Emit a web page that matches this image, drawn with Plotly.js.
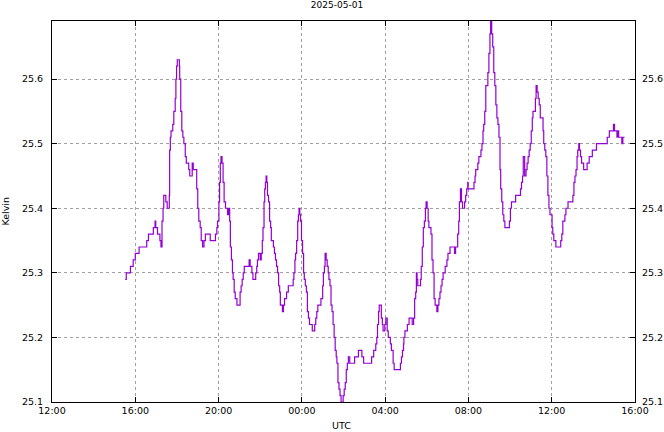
<!DOCTYPE html>
<html>
<head>
<meta charset="utf-8">
<script src="https://cdn.plot.ly/plotly-3.0.1.min.js"></script>
<style>
  html, body { margin: 0; padding: 0; background: #ffffff; }
  #chart { width: 664px; height: 432px; }
</style>
</head>
<body>
<div id="chart"></div>
<script>
// Title / labels
const chartTitle = "2025-05-01";
const xLabel = "UTC";
const yLabel = "Kelvin";
const startDate = "2025-05-01";
const nextDate = "2025-05-02";

// Measurement times (UTC, HH:MM) starting 2025-05-01, rolling into 2025-05-02
const times = [
  "15:31","15:34","15:46","15:54","16:00","16:11","16:33","16:38","16:52","16:57",
  "16:59","17:04","17:08","17:11","17:14","17:17","17:20","17:22","17:26","17:28",
  "17:32","17:38","17:39","17:41","17:43","17:48","17:51","17:55","17:57","17:59",
  "18:01","18:07","18:08","18:11","18:14","18:17","18:20","18:24","18:27","18:34",
  "18:37","18:44","18:47","18:57","19:00","19:03","19:07","19:10","19:14","19:18",
  "19:22","19:36","19:51","19:55","19:57","20:01","20:03","20:05","20:07","20:10",
  "20:13","20:16","20:20","20:26","20:29","20:32","20:34","20:37","20:40","20:42",
  "20:45","20:48","20:53","21:02","21:05","21:08","21:11","21:14","21:28","21:31",
  "21:36","21:39","21:47","21:50","21:52","21:55","22:00","22:03","22:06","22:08",
  "22:11","22:13","22:15","22:17","22:19","22:21","22:24","22:27","22:30","22:32",
  "22:38","22:41","22:44","22:47","22:50","22:53","22:56","22:58","23:04","23:07",
  "23:10","23:16","23:21","23:35","23:37","23:40","23:42","23:45","23:48","23:50",
  "23:52","23:54","23:56","23:59","00:02","00:05","00:07","00:10","00:13","00:16",
  "00:19","00:22","00:30","00:37","00:40","00:43","00:46","00:55","01:00","01:02",
  "01:05","01:07","01:10","01:13","01:16","01:18","01:21","01:24","01:27","01:30",
  "01:33","01:36","01:39","01:41","01:44","01:47","01:50","01:53","01:59","02:02",
  "02:05","02:08","02:11","02:14","02:18","02:32","02:43","02:53","02:58","03:21",
  "03:27","03:33","03:36","03:38","03:41","03:43","03:49","03:52","03:54","03:59",
  "04:02","04:06","04:09","04:15","04:18","04:23","04:26","04:44","04:47","04:50",
  "04:53","04:54","04:57","05:04","05:09","05:18","05:22","05:25","05:28","05:30",
  "05:32","05:34","05:42","05:44","05:47","05:50","05:53","05:56","05:58","06:01",
  "06:04","06:06","06:12","06:15","06:18","06:21","06:24","06:29","06:32","06:35",
  "06:38","06:41","06:44","06:47","06:53","06:58","07:01","07:07","07:20","07:23",
  "07:29","07:32","07:34","07:37","07:40","07:43","07:49","07:52","07:55","07:58",
  "07:59","08:16","08:19","08:21","08:27","08:30","08:36","08:39","08:42","08:44",
  "08:47","08:50","08:56","08:59","09:02","09:04","09:07","09:10","09:13","09:16",
  "09:19","09:22","09:25","09:28","09:31","09:33","09:36","09:39","09:42","09:45",
  "09:58","10:01","10:04","10:16","10:30","10:33","10:36","10:38","10:42","10:46",
  "10:49","10:52","10:55","10:58","11:01","11:04","11:06","11:13","11:15","11:18",
  "11:21","11:24","11:27","11:35","11:37","11:40","11:43","11:46","11:49","11:52",
  "11:55","12:01","12:03","12:06","12:12","12:26","12:29","12:32","12:38","12:41",
  "12:47","13:01","13:04","13:07","13:10","13:13","13:15","13:18","13:20","13:23",
  "13:26","13:32","13:42","13:48","13:57","14:09","14:40","14:46","14:58","15:01",
  "15:08","15:11","15:13","15:22","15:25","15:30"
];

// Temperature readings (Kelvin)
const kelvin = [
  25.29,25.30,25.31,25.32,25.33,25.34,25.35,25.36,25.37,25.38,
  25.37,25.36,25.36,25.35,25.34,25.38,25.40,25.42,25.42,25.41,
  25.40,25.42,25.49,25.51,25.52,25.53,25.55,25.57,25.60,25.62,
  25.63,25.62,25.60,25.55,25.52,25.51,25.50,25.48,25.47,25.46,
  25.45,25.47,25.46,25.43,25.40,25.38,25.37,25.35,25.34,25.35,
  25.36,25.35,25.36,25.37,25.38,25.41,25.44,25.47,25.48,25.47,
  25.44,25.41,25.40,25.39,25.40,25.38,25.34,25.32,25.30,25.29,
  25.27,25.26,25.25,25.27,25.28,25.29,25.30,25.31,25.32,25.31,
  25.30,25.29,25.30,25.31,25.32,25.33,25.32,25.33,25.35,25.37,
  25.41,25.43,25.44,25.45,25.44,25.42,25.41,25.38,25.37,25.35,
  25.34,25.33,25.32,25.31,25.30,25.28,25.27,25.25,25.24,25.25,
  25.26,25.27,25.28,25.29,25.30,25.32,25.33,25.35,25.38,25.39,
  25.40,25.39,25.38,25.35,25.33,25.30,25.29,25.28,25.27,25.24,
  25.23,25.22,25.21,25.22,25.23,25.24,25.25,25.26,25.28,25.30,
  25.31,25.33,25.32,25.31,25.30,25.29,25.28,25.25,25.24,25.22,
  25.20,25.18,25.17,25.16,25.13,25.12,25.11,25.10,25.11,25.12,
  25.13,25.15,25.16,25.17,25.16,25.17,25.18,25.17,25.16,25.17,
  25.18,25.19,25.20,25.22,25.24,25.25,25.23,25.22,25.21,25.22,
  25.23,25.21,25.20,25.19,25.18,25.16,25.15,25.16,25.17,25.18,
  25.19,25.20,25.21,25.22,25.23,25.22,25.23,25.26,25.27,25.30,
  25.29,25.28,25.29,25.31,25.34,25.37,25.38,25.40,25.41,25.40,
  25.38,25.37,25.36,25.32,25.30,25.26,25.25,25.24,25.25,25.26,
  25.27,25.28,25.29,25.30,25.31,25.32,25.33,25.34,25.33,25.34,
  25.36,25.38,25.41,25.43,25.41,25.40,25.41,25.42,25.43,25.44,
  25.43,25.44,25.45,25.46,25.47,25.48,25.49,25.50,25.52,25.53,
  25.55,25.59,25.61,25.64,25.67,25.69,25.67,25.65,25.61,25.59,
  25.56,25.54,25.53,25.51,25.46,25.43,25.41,25.39,25.38,25.37,
  25.38,25.40,25.41,25.42,25.43,25.44,25.45,25.48,25.45,25.46,
  25.47,25.48,25.49,25.50,25.52,25.54,25.55,25.57,25.59,25.58,
  25.57,25.56,25.54,25.52,25.50,25.49,25.48,25.45,25.42,25.40,
  25.39,25.37,25.36,25.35,25.34,25.35,25.36,25.38,25.39,25.40,
  25.41,25.42,25.44,25.45,25.46,25.48,25.49,25.50,25.49,25.48,
  25.47,25.46,25.47,25.48,25.49,25.50,25.51,25.52,25.53,25.52,
  25.51,25.52,25.51,25.50,25.51,25.51
];

// Axis tick values
const yTicks = [25.1, 25.2, 25.3, 25.4, 25.5, 25.6];
const yRange = [25.1, 25.69];
const xRange = ["2025-05-01 12:00", "2025-05-02 16:00"];

// Build timestamps, rolling over to the next day after midnight
const xs = [];
let day = startDate, prevMin = -1;
for (const t of times) {
  const [h, m] = t.split(":").map(Number);
  const mins = h * 60 + m;
  if (prevMin >= 0 && mins < prevMin) day = nextDate;
  prevMin = mins;
  xs.push(day + " " + t);
}

const FONT = "DejaVu Sans";
const gridColor = "#a0a0a0";

const trace = {
  x: xs, y: kelvin, type: "scatter", mode: "lines",
  line: { color: "#9400d3", width: 1.2, shape: "hv" },
  hoverinfo: "skip", showlegend: false
};
const traceR = {
  x: xs, y: kelvin, type: "scatter", mode: "lines", yaxis: "y2",
  line: { color: "rgba(0,0,0,0)", width: 0 }, hoverinfo: "skip", showlegend: false
};

const layout = {
  width: 664, height: 432,
  margin: { l: 52, r: 29, t: 21, b: 30, pad: 0 },
  paper_bgcolor: "#ffffff", plot_bgcolor: "#ffffff",
  font: { family: FONT, size: 9, color: "#000000" },
  title: {
    text: chartTitle, font: { family: FONT, size: 9, color: "#000" },
    x: 0.5075, xref: "container", xanchor: "center",
    y: 1 - 5 / 432, yref: "container", yanchor: "middle"
  },
  xaxis: {
    type: "date", range: xRange,
    tick0: "2025-05-01 12:00", dtick: 4 * 3600 * 1000, tickformat: "%H:%M",
    showgrid: true, gridcolor: gridColor, griddash: "3px,3px", gridwidth: 1,
    ticks: "inside", ticklen: 5, tickcolor: "#000", tickwidth: 1,
    showline: true, linecolor: "#000", linewidth: 1, mirror: "ticks",
    zeroline: false, tickfont: { family: FONT, size: 9.5, color: "#000" }
  },
  yaxis: {
    range: yRange, tickvals: yTicks, ticktext: yTicks.map(v => v.toFixed(1)),
    showgrid: true, gridcolor: gridColor, griddash: "3px,3px", gridwidth: 1,
    ticks: "inside", ticklen: 5, tickcolor: "#000", tickwidth: 1,
    showline: true, linecolor: "#000", linewidth: 1, mirror: "ticks",
    zeroline: false, ticklabelstandoff: 6,
    tickfont: { family: FONT, size: 9.5, color: "#000" }
  },
  yaxis2: {
    overlaying: "y", side: "right", range: yRange,
    tickvals: yTicks, ticktext: yTicks.map(v => v.toFixed(1)),
    showgrid: false, zeroline: false, showline: false, ticks: "",
    ticklabelstandoff: 6,
    tickfont: { family: FONT, size: 9.5, color: "#000" }
  },
  annotations: [
    { text: xLabel, xref: "paper", yref: "paper", x: 0.497, y: -23 / 381,
      xanchor: "center", yanchor: "middle", showarrow: false,
      font: { family: FONT, size: 9.5, color: "#000" } },
    { text: yLabel, xref: "paper", yref: "paper", x: -47 / 583, y: 0.50,
      xanchor: "center", yanchor: "middle", showarrow: false, textangle: -90,
      font: { family: FONT, size: 9.5, color: "#000" } }
  ]
};

Plotly.newPlot("chart", [trace, traceR], layout, { staticPlot: true, displayModeBar: false });
</script>
</body>
</html>
